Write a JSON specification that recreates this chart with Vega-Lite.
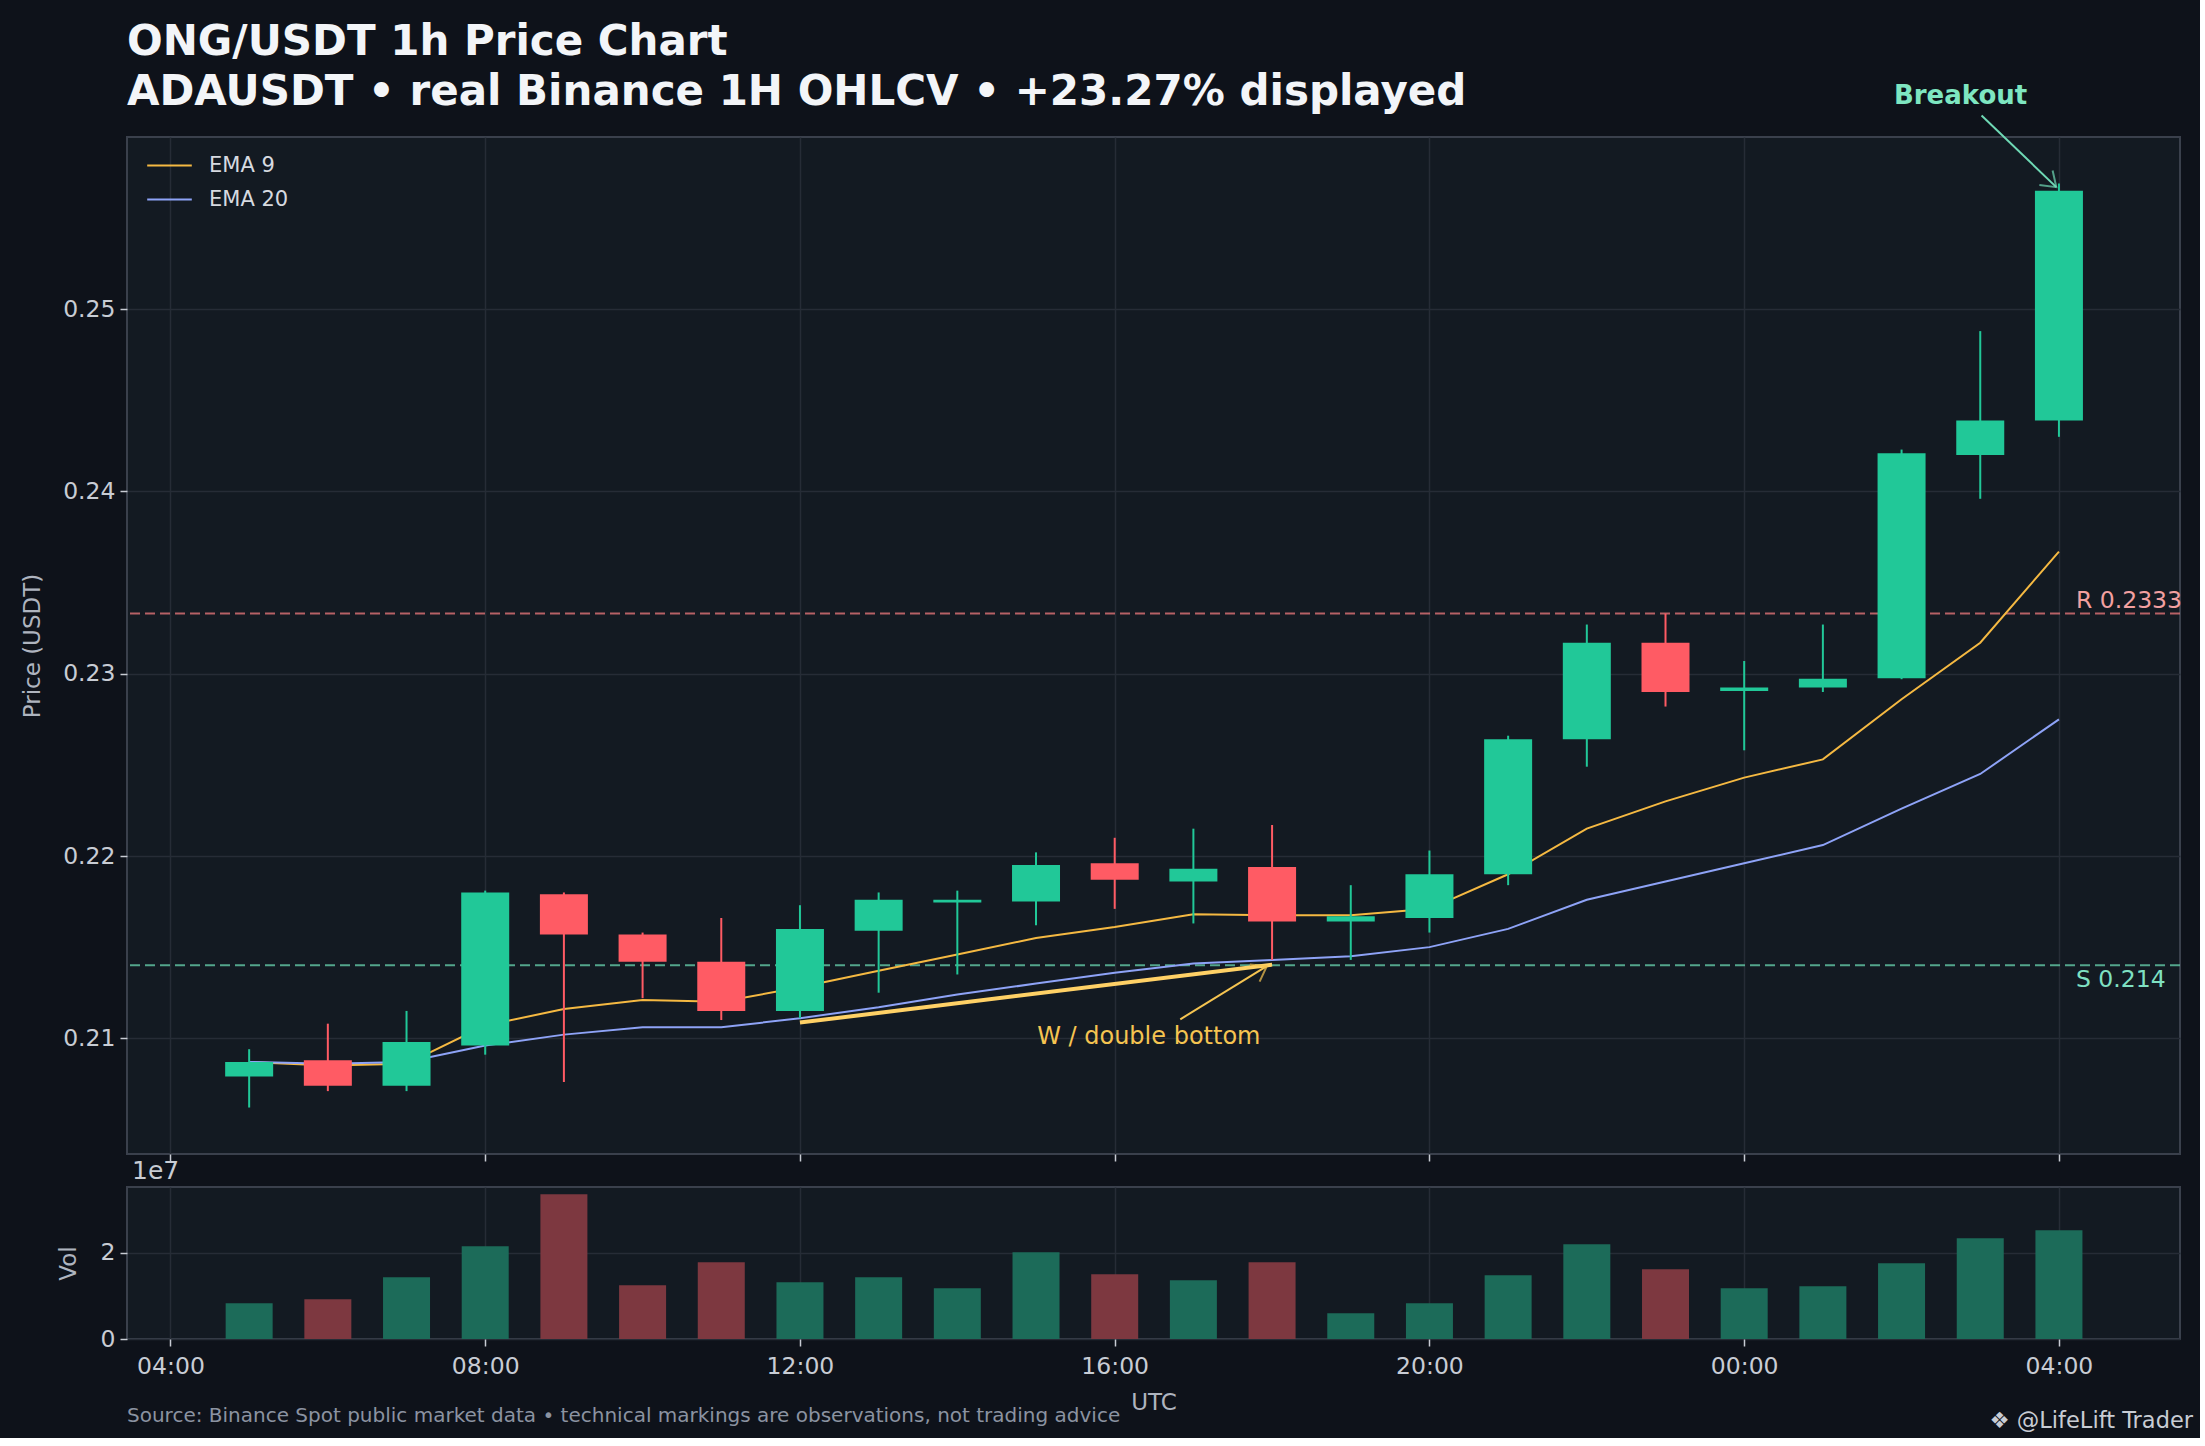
{
  "$schema": "https://vega.github.io/schema/vega-lite/v6.json",
  "background": "#0e121a",
  "padding": {"left": 20, "top": 20, "right": 6, "bottom": 6},
  "title": {
    "text": "❖ @LifeLift Trader",
    "orient": "bottom",
    "anchor": "end",
    "fontSize": 22.5,
    "fontWeight": "normal",
    "color": "#c8ccd4",
    "offset": -17,
    "dx": 10
  },
  "datasets": {
    "candles": [
      {"t": "2025-03-10T05:00:00Z", "open": 0.2079, "high": 0.2094, "low": 0.2062, "close": 0.2087, "volume": 8290000, "ema9": 0.2087, "ema20": 0.2087},
      {"t": "2025-03-10T06:00:00Z", "open": 0.2088, "high": 0.2108, "low": 0.2071, "close": 0.2074, "volume": 9220000, "ema9": 0.2085, "ema20": 0.2086},
      {"t": "2025-03-10T07:00:00Z", "open": 0.2074, "high": 0.2115, "low": 0.2071, "close": 0.2098, "volume": 14340000, "ema9": 0.2086, "ema20": 0.2087},
      {"t": "2025-03-10T08:00:00Z", "open": 0.2096, "high": 0.2181, "low": 0.2091, "close": 0.2180, "volume": 21550000, "ema9": 0.2107, "ema20": 0.2096},
      {"t": "2025-03-10T09:00:00Z", "open": 0.2179, "high": 0.2180, "low": 0.2076, "close": 0.2157, "volume": 33640000, "ema9": 0.2116, "ema20": 0.2102},
      {"t": "2025-03-10T10:00:00Z", "open": 0.2157, "high": 0.2158, "low": 0.2122, "close": 0.2142, "volume": 12480000, "ema9": 0.2121, "ema20": 0.2106},
      {"t": "2025-03-10T11:00:00Z", "open": 0.2142, "high": 0.2166, "low": 0.2110, "close": 0.2115, "volume": 17830000, "ema9": 0.2120, "ema20": 0.2106},
      {"t": "2025-03-10T12:00:00Z", "open": 0.2115, "high": 0.2173, "low": 0.2111, "close": 0.2160, "volume": 13180000, "ema9": 0.2128, "ema20": 0.2111},
      {"t": "2025-03-10T13:00:00Z", "open": 0.2159, "high": 0.2180, "low": 0.2125, "close": 0.2176, "volume": 14340000, "ema9": 0.2137, "ema20": 0.2117},
      {"t": "2025-03-10T14:00:00Z", "open": 0.21745, "high": 0.2181, "low": 0.2135, "close": 0.2176, "volume": 11780000, "ema9": 0.2146, "ema20": 0.2124},
      {"t": "2025-03-10T15:00:00Z", "open": 0.2175, "high": 0.2202, "low": 0.2162, "close": 0.2195, "volume": 20160000, "ema9": 0.2155, "ema20": 0.2130},
      {"t": "2025-03-10T16:00:00Z", "open": 0.2196, "high": 0.2210, "low": 0.2171, "close": 0.2187, "volume": 15040000, "ema9": 0.2161, "ema20": 0.2136},
      {"t": "2025-03-10T17:00:00Z", "open": 0.2186, "high": 0.2215, "low": 0.2163, "close": 0.2193, "volume": 13640000, "ema9": 0.2168, "ema20": 0.2141},
      {"t": "2025-03-10T18:00:00Z", "open": 0.2194, "high": 0.2217, "low": 0.2143, "close": 0.2164, "volume": 17830000, "ema9": 0.21675, "ema20": 0.2143},
      {"t": "2025-03-10T19:00:00Z", "open": 0.2164, "high": 0.2184, "low": 0.2143, "close": 0.2167, "volume": 5970000, "ema9": 0.21675, "ema20": 0.2145},
      {"t": "2025-03-10T20:00:00Z", "open": 0.2166, "high": 0.2203, "low": 0.2158, "close": 0.2190, "volume": 8290000, "ema9": 0.2171, "ema20": 0.2150},
      {"t": "2025-03-10T21:00:00Z", "open": 0.2190, "high": 0.2266, "low": 0.2184, "close": 0.2264, "volume": 14810000, "ema9": 0.2190, "ema20": 0.2160},
      {"t": "2025-03-10T22:00:00Z", "open": 0.2264, "high": 0.2327, "low": 0.2249, "close": 0.2317, "volume": 22020000, "ema9": 0.2215, "ema20": 0.2176},
      {"t": "2025-03-10T23:00:00Z", "open": 0.2317, "high": 0.2333, "low": 0.2282, "close": 0.2290, "volume": 16200000, "ema9": 0.2230, "ema20": 0.2186},
      {"t": "2025-03-11T00:00:00Z", "open": 0.22905, "high": 0.2307, "low": 0.2258, "close": 0.22925, "volume": 11780000, "ema9": 0.2243, "ema20": 0.2196},
      {"t": "2025-03-11T01:00:00Z", "open": 0.22925, "high": 0.2327, "low": 0.2290, "close": 0.22973, "volume": 12250000, "ema9": 0.2253, "ema20": 0.2206},
      {"t": "2025-03-11T02:00:00Z", "open": 0.22975, "high": 0.2423, "low": 0.2297, "close": 0.2421, "volume": 17600000, "ema9": 0.2286, "ema20": 0.2226},
      {"t": "2025-03-11T03:00:00Z", "open": 0.2420, "high": 0.2488, "low": 0.2396, "close": 0.2439, "volume": 23410000, "ema9": 0.2317, "ema20": 0.2245},
      {"t": "2025-03-11T04:00:00Z", "open": 0.2439, "high": 0.2569, "low": 0.2430, "close": 0.2565, "volume": 25270000, "ema9": 0.2367, "ema20": 0.2275}
    ],
    "levels": [
      {"label": "R 0.2333", "p": 0.2333, "t": "2025-03-11T04:13:00Z"},
      {"label": "S 0.214", "p": 0.214, "t": "2025-03-11T04:13:00Z"}
    ],
    "arrows": [
      {"name": "w", "t": "2025-03-10T16:50:00Z", "p": 0.21104, "t2": "2025-03-10T17:56:00Z", "p2": 0.21396},
      {"name": "breakout", "t": "2025-03-11T03:01:00Z", "p": 0.26063, "t2": "2025-03-11T03:58:00Z", "p2": 0.2567}
    ],
    "notes": [
      {"name": "w", "label": "W / double bottom", "t": "2025-03-10T16:26:00Z", "p": 0.21008},
      {"name": "breakout", "label": "Breakout", "t": "2025-03-11T02:45:00Z", "p": 0.26169}
    ],
    "wline": [
      {"t": "2025-03-10T12:00:00Z", "p": 0.21086},
      {"t": "2025-03-10T18:00:00Z", "p": 0.21404}
    ],
    "offsetnote": [
      {"t": "2025-03-10T03:30:40Z", "v": 35330000, "label": "1e7"}
    ]
  },
  "data": {"name": "candles"},
  "bounds": "flush",
  "spacing": 33,
  "vconcat": [
    {
      "width": 2053,
      "height": 1017,
      "title": {
        "text": "ONG/USDT 1h Price Chart",
        "subtitle": "ADAUSDT • real Binance 1H OHLCV • +23.27% displayed",
        "anchor": "start",
        "frame": "group",
        "fontSize": 42,
        "fontWeight": "bold",
        "color": "#f3f5f8",
        "subtitleFontSize": 42,
        "subtitleFontWeight": "bold",
        "subtitleColor": "#f3f5f8",
        "subtitlePadding": 8,
        "offset": -31
      },
      "layer": [
        {
          "data": {"name": "levels"},
          "mark": {"type": "rule", "strokeDash": [10, 5], "strokeWidth": 2, "opacity": 0.85},
          "encoding": {
            "y": {"field": "p", "type": "quantitative", "title": "Price (USDT)",
              "scale": {"domain": [0.20365, 0.25945], "zero": false, "nice": false},
              "axis": {"values": [0.21, 0.22, 0.23, 0.24, 0.25], "format": ".2f", "titlePadding": 18}},
            "color": {"condition": {"test": "datum.p > 0.22", "value": "#d46f72"}, "value": "#5fbf9f"}
          }
        },
        {
          "transform": [{"fold": ["ema9", "ema20"], "as": ["series", "val"]}],
          "mark": {"type": "line", "strokeWidth": 2},
          "encoding": {
            "x": {"field": "t", "type": "temporal", "title": null,
              "scale": {"type": "utc", "domain": [1741577440000, 1741670910000]},
              "axis": {"labels": false, "values": [1741579200000, 1741593600000, 1741608000000, 1741622400000, 1741636800000, 1741651200000, 1741665600000], "title": null}},
            "y": {"field": "val", "type": "quantitative", "title": "Price (USDT)"},
            "color": {
              "field": "series",
              "type": "nominal",
              "scale": {"domain": ["ema9", "ema20"], "range": ["#f5b942", "#8ea3f7"]},
              "legend": {
                "orient": "none",
                "legendX": 19,
                "legendY": 5,
                "title": null,
                "padding": 0,
                "symbolType": "stroke",
                "symbolSize": 1990,
                "symbolStrokeWidth": 2,
                "labelFontSize": 21,
                "labelColor": "#d7dae0",
                "labelOffset": 16,
                "rowPadding": -12,
                "labelExpr": "datum.label == 'ema9' ? 'EMA 9' : 'EMA 20'"
              }
            }
          }
        },
        {
          "mark": {"type": "rule", "strokeWidth": 2},
          "encoding": {
            "x": {"field": "t", "type": "temporal", "title": null},
            "y": {"field": "low", "type": "quantitative", "title": "Price (USDT)"},
            "y2": {"field": "high"},
            "color": {"condition": {"test": "datum.close >= datum.open", "value": "#21c898"}, "value": "#ff5b64"}
          }
        },
        {
          "mark": {"type": "bar", "size": 48},
          "encoding": {
            "x": {"field": "t", "type": "temporal", "title": null},
            "y": {"field": "open", "type": "quantitative", "title": "Price (USDT)"},
            "y2": {"field": "close"},
            "color": {"condition": {"test": "datum.close >= datum.open", "value": "#21c898"}, "value": "#ff5b64"}
          }
        },
        {
          "data": {"name": "wline"},
          "mark": {"type": "line", "strokeWidth": 4, "color": "#ffd166"},
          "encoding": {
            "x": {"field": "t", "type": "temporal", "title": null},
            "y": {"field": "p", "type": "quantitative", "title": "Price (USDT)"}
          }
        },
        {
          "data": {"name": "arrows"},
          "mark": {"type": "rule", "strokeWidth": 2},
          "encoding": {
            "x": {"field": "t", "type": "temporal", "title": null},
            "x2": {"field": "t2"},
            "y": {"field": "p", "type": "quantitative", "title": "Price (USDT)"},
            "y2": {"field": "p2"},
            "color": {"condition": {"test": "datum.name == 'w'", "value": "#f5c451"}, "value": "#6fd9b5"}
          }
        },
        {
          "data": {"name": "arrows"},
          "mark": {"type": "point", "shape": "M-1,-0.7L0,0L-1,0.7", "filled": false, "size": 784, "strokeWidth": 2},
          "encoding": {
            "x": {"field": "t2", "type": "temporal", "title": null},
            "y": {"field": "p2", "type": "quantitative", "title": "Price (USDT)"},
            "angle": {"condition": {"test": "datum.name == 'w'", "value": -30}, "value": 42.5},
            "color": {"condition": {"test": "datum.name == 'w'", "value": "#f5c451"}, "value": "#6fd9b5"}
          }
        },
        {
          "data": {"name": "notes"},
          "transform": [{"filter": "datum.name == 'w'"}],
          "mark": {"type": "text", "align": "center", "baseline": "middle", "fontSize": 24, "color": "#f5c451"},
          "encoding": {
            "x": {"field": "t", "type": "temporal", "title": null},
            "y": {"field": "p", "type": "quantitative", "title": "Price (USDT)"},
            "text": {"field": "label"}
          }
        },
        {
          "data": {"name": "notes"},
          "transform": [{"filter": "datum.name == 'breakout'"}],
          "mark": {"type": "text", "align": "center", "baseline": "middle", "fontSize": 26, "fontWeight": "bold", "color": "#7ee6c1"},
          "encoding": {
            "x": {"field": "t", "type": "temporal", "title": null},
            "y": {"field": "p", "type": "quantitative", "title": "Price (USDT)"},
            "text": {"field": "label"}
          }
        },
        {
          "data": {"name": "levels"},
          "transform": [{"filter": "datum.p > 0.22"}],
          "mark": {"type": "text", "align": "left", "baseline": "bottom", "dy": -1, "fontSize": 23.5, "color": "#f2a0a0"},
          "encoding": {
            "x": {"field": "t", "type": "temporal", "title": null},
            "y": {"field": "p", "type": "quantitative", "title": "Price (USDT)"},
            "text": {"field": "label"}
          }
        },
        {
          "data": {"name": "levels"},
          "transform": [{"filter": "datum.p < 0.22"}],
          "mark": {"type": "text", "align": "left", "baseline": "top", "dy": 3, "fontSize": 23.5, "color": "#7fe0c2"},
          "encoding": {
            "x": {"field": "t", "type": "temporal", "title": null},
            "y": {"field": "p", "type": "quantitative", "title": "Price (USDT)"},
            "text": {"field": "label"}
          }
        }
      ]
    },
    {
      "width": 2053,
      "height": 152,
      "title": {
        "text": "Source: Binance Spot public market data • technical markings are observations, not trading advice",
        "orient": "bottom",
        "anchor": "start",
        "frame": "group",
        "fontSize": 20,
        "fontWeight": "normal",
        "color": "#8b93a1",
        "offset": -9
      },
      "layer": [
        {
          "mark": {"type": "bar", "size": 47},
          "encoding": {
            "x": {"field": "t", "type": "temporal", "title": "UTC",
              "scale": {"type": "utc", "domain": [1741577440000, 1741670910000]},
              "axis": {"format": "%H:%M", "values": [1741579200000, 1741593600000, 1741608000000, 1741622400000, 1741636800000, 1741651200000, 1741665600000], "labelPadding": 8, "titlePadding": 14}},
            "y": {"field": "volume", "type": "quantitative", "title": "Vol",
              "scale": {"domain": [0, 35330000], "nice": false},
              "axis": {"values": [0, 20000000], "labelExpr": "format(datum.value / 10000000, 'd')", "titlePadding": 20}},
            "color": {"condition": {"test": "datum.close >= datum.open", "value": "#1c6b59"}, "value": "#7d3840"}
          }
        },
        {
          "data": {"name": "offsetnote"},
          "mark": {"type": "text", "align": "left", "baseline": "alphabetic", "dy": -8, "fontSize": 25, "color": "#c8ccd4"},
          "encoding": {
            "x": {"field": "t", "type": "temporal", "title": "UTC"},
            "y": {"field": "v", "type": "quantitative", "title": "Vol"},
            "text": {"field": "label"}
          }
        }
      ]
    }
  ],
  "config": {
    "font": "DejaVu Sans",
    "view": {"fill": "#131a22", "stroke": "#3a404c", "strokeWidth": 2},
    "axis": {
      "domain": false,
      "grid": true,
      "gridColor": "#262c36",
      "gridWidth": 1.5,
      "tickColor": "#c8ccd4",
      "tickSize": 7,
      "tickWidth": 1.5,
      "labelColor": "#c8ccd4",
      "labelFontSize": 23.5,
      "labelPadding": 5,
      "titleColor": "#aeb4bf",
      "titleFontSize": 23,
      "titleFontWeight": "normal"
    }
  }
}
